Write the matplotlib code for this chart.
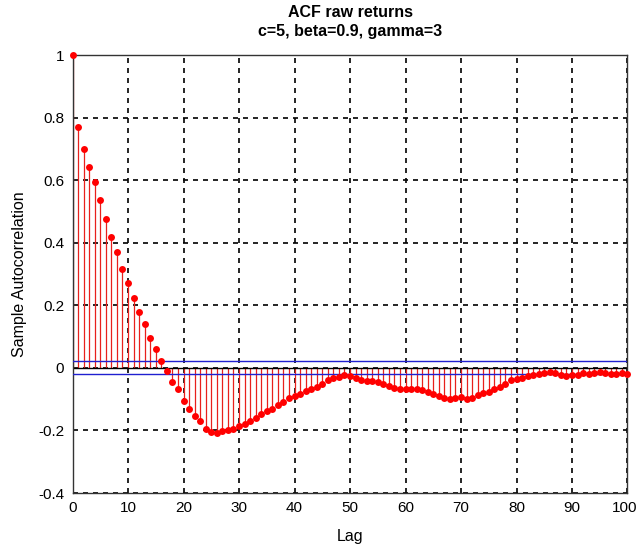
import numpy as np
import matplotlib
matplotlib.use("Agg")
import matplotlib.pyplot as plt
import matplotlib.transforms as mtransforms

# sample autocorrelation, lags 0..100
lags = np.arange(0, 101)
acf = [1.0, 0.77, 0.70, 0.642, 0.594, 0.537, 0.476, 0.418, 0.370, 0.316,
       0.271, 0.225, 0.180, 0.140, 0.095, 0.060, 0.023, -0.010, -0.044, -0.068,
       -0.105, -0.131, -0.153, -0.169, -0.195, -0.204, -0.207, -0.202, -0.198, -0.195,
       -0.186, -0.178, -0.170, -0.160, -0.147, -0.138, -0.130, -0.118, -0.108, -0.097,
       -0.090, -0.083, -0.074, -0.066, -0.060, -0.050, -0.040, -0.033, -0.028, -0.024,
       -0.027, -0.033, -0.039, -0.042, -0.043, -0.046, -0.052, -0.058, -0.063, -0.066,
       -0.068, -0.066, -0.068, -0.072, -0.076, -0.084, -0.090, -0.096, -0.098, -0.096,
       -0.094, -0.098, -0.096, -0.088, -0.080, -0.076, -0.068, -0.060, -0.050, -0.040,
       -0.034, -0.031, -0.027, -0.022, -0.018, -0.016, -0.014, -0.015, -0.022, -0.025,
       -0.024, -0.022, -0.017, -0.018, -0.016, -0.012, -0.015, -0.020, -0.018, -0.016,
       -0.018]
bound = 0.0205  # confidence bounds

xticks = np.arange(0, 101, 10)
yticks = [-0.4, -0.2, 0, 0.2, 0.4, 0.6, 0.8, 1]
ytick_labels = ["-0.4", "-0.2", "0", "0.2", "0.4", "0.6", "0.8", "1"]

plt.rcParams['font.family'] = ['Liberation Sans', 'DejaVu Sans']

fig = plt.figure(figsize=(6.39, 5.54), dpi=100)
ax = fig.add_axes([0.1135, 0.110, 0.8685, 0.7907])

for y in yticks:
    ax.axhline(y, color='black', linestyle=(0, (3, 3)), linewidth=1.2, zorder=0)
for x in xticks:
    ax.axvline(x, color='black', linestyle=(0, (3, 3)), linewidth=1.2, zorder=0)

ax.vlines(lags, 0, acf, color='#e8201c', linewidth=0.9, zorder=2)
ax.plot(lags, acf, 'o', color='#ff0000', markersize=5, markeredgewidth=0,
        zorder=5, clip_on=False)
ax.axhline(0, color='black', linewidth=1.0, zorder=2)
ax.axhline(bound, color='#2020d0', linewidth=1.0, zorder=4)
ax.axhline(-bound, color='#2020d0', linewidth=1.0, zorder=4)

ax.set_xlim(0, 100)
ax.set_ylim(-0.4, 1)
ax.set_xticks(xticks)
ax.set_yticks(yticks)
ax.set_yticklabels(ytick_labels)
ax.tick_params(direction='in', length=0, labelsize=11, pad=6)
for s in ax.spines.values():
    s.set_color('#333333')
    s.set_linewidth(1.0)

# last x label sits right at the figure edge, pull it in a little
last = ax.get_xticklabels()[-1]
last.set_transform(last.get_transform() +
                   mtransforms.ScaledTranslation(-3 / 100, 0, fig.dpi_scale_trans))

ax.set_xlabel('Lag', fontsize=11.5, labelpad=10)
ax.set_ylabel('Sample Autocorrelation', fontsize=11.5, labelpad=8)
ax.set_title('ACF raw returns\nc=5, beta=0.9, gamma=3', fontsize=11.5,
             fontweight='bold', pad=14, linespacing=1.3)

fig.savefig('out.png', dpi=100, facecolor='white')
